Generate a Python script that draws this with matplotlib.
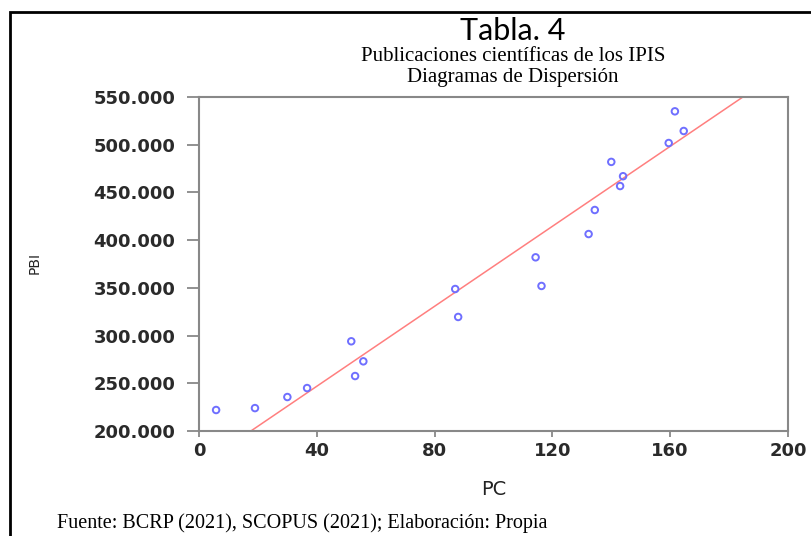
import matplotlib.pyplot as plt
import numpy as np
from matplotlib.patches import Rectangle

# Datos (PC vs PBI)
pc = [5.8, 19, 30, 36.7, 51.7, 53, 55.8, 87, 88, 114.3, 116.3,
      132.3, 134.4, 140, 143, 144, 159.5, 161.6, 164.6]
pbi = [222000, 224000, 235600, 245000, 294000, 257600, 273000, 348800, 319500,
       382000, 352000, 406400, 431600, 482000, 456700, 467000, 501800, 535000, 514400]

# Recta de ajuste tal como aparece en la figura
fit_slope = 2095.0
fit_intercept = 163100.0

x_ticks = [0, 40, 80, 120, 160, 200]
y_ticks = [200000, 250000, 300000, 350000, 400000, 450000, 500000, 550000]
y_labels = ['200.000', '250.000', '300.000', '350.000', '400.000',
            '450.000', '500.000', '550.000']

fig = plt.figure(figsize=(8.12, 5.36), dpi=100)
ax = fig.add_axes([0.2451, 0.1959, 0.7253, 0.6231])

x = np.array(pc)
y = np.array(pbi)

xl = np.linspace(0, 200, 200)
ax.plot(xl, fit_slope * xl + fit_intercept, color='#ff7f7f', lw=1.1, zorder=2)

ax.scatter(x, y, s=22, facecolors='none', edgecolors='#6f6fff', linewidths=1.4, zorder=3)

ax.set_xlim(0, 200)
ax.set_ylim(200000, 550000)
ax.set_xticks(x_ticks)
ax.set_yticks(y_ticks)
ax.set_yticklabels(y_labels)

for s in ax.spines.values():
    s.set_color('#888888')
    s.set_linewidth(1.5)
ax.tick_params(direction='out', width=1.3, color='#888888',
               labelsize=13, labelcolor='#2a2a2a')
ax.tick_params(axis='y', length=9, pad=8)
ax.tick_params(axis='x', length=4, pad=4)
for t in ax.get_xticklabels() + ax.get_yticklabels():
    t.set_fontweight('bold')

ax.set_xlabel('PC', fontsize=14, color='#222222', labelpad=14)
fig.text(0.043, 0.51, 'PBI', rotation=90, fontsize=10, ha='center', va='center',
         color='#222222')

fig.text(0.632, 0.943, 'Tabla. 4', fontsize=22, family='Lato',
         ha='center', va='center')
fig.text(0.632, 0.895, 'Publicaciones científicas de los IPIS', fontsize=15,
         family='Liberation Serif', ha='center', va='center')
fig.text(0.632, 0.856, 'Diagramas de Dispersión', fontsize=15,
         family='Liberation Serif', ha='center', va='center')
fig.text(0.07, 0.024, 'Fuente: BCRP (2021), SCOPUS (2021); Elaboración: Propia',
         fontsize=14.5, family='Liberation Serif', ha='left', va='center')

# Marco negro exterior
fig.patches.append(Rectangle((0.012, -0.05), 1.1, 1.028, transform=fig.transFigure,
                             fill=False, edgecolor='black', lw=2))

fig.savefig('out.png', dpi=100)
